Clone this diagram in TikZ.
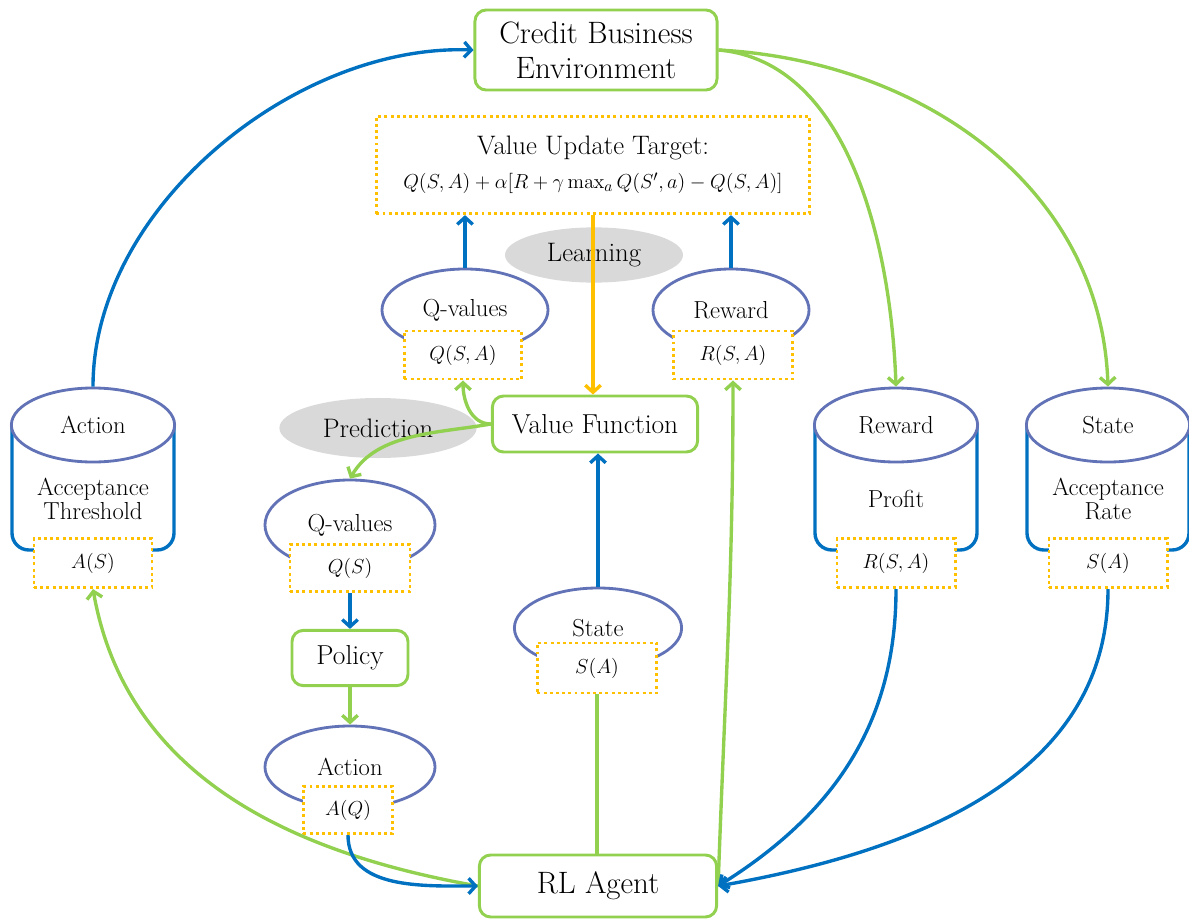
\documentclass[tikz,border=0pt]{standalone}
\usepackage{amsmath}
\usetikzlibrary{shapes.geometric,arrows.meta,positioning,calc}
\definecolor{xGreen}{RGB}{146,208,80}
\definecolor{xBlue}{RGB}{0,112,192}
\definecolor{xOrange}{RGB}{255,192,0}
\definecolor{xLilac}{RGB}{98,114,182}
\definecolor{xGray}{RGB}{217,217,217}
\newcommand{\xBigFont}{\fontsize{22}{25}\selectfont}
\newcommand{\xMidFont}{\fontsize{19.5}{22}\selectfont}
\newcommand{\xLabFont}{\fontsize{17.5}{17}\selectfont}
\newcommand{\xMathFont}{\fontsize{14.5}{18}\selectfont}
\newcommand{\xCloudFont}{\fontsize{19}{20}\selectfont}
\tikzset{
  greenbox/.style={draw=xGreen, line width=2.1pt, rounded corners=8pt, fill=white, align=center, inner sep=0pt},
  dotbox/.style={draw=xOrange, line width=2.1pt, dash pattern=on 2.1pt off 2.3pt, fill=white, inner sep=0pt, font=\xMathFont},
  cup/.style={ellipse, draw=xLilac, line width=2pt, fill=white, inner sep=0pt, font=\xLabFont},
  cloud/.style={ellipse, fill=xGray, inner sep=0pt, font=\xCloudFont},
  barb/.style={-{Straight Barb[length=5pt,width=11pt]}},
  blueline/.style={draw=xBlue, line width=2.4pt, barb},
  greenline/.style={draw=xGreen, line width=2.4pt, barb},
}

\begin{document}
\begin{tikzpicture}[x=0.025cm, y=-0.025cm]
    \useasboundingbox (0,0) rectangle (1189,920);

    % environment and update target
    \node[greenbox, font=\xBigFont, minimum width=6.05cm, minimum height=2cm] (env) at (596,50) {Credit Business\\Environment};
    \node[dotbox, align=center, minimum width=10.83cm, minimum height=2.43cm] (target) at (593,165)
        {{\fontsize{19}{24}\selectfont Value Update Target:}\\[6pt]
         {\fontsize{15.5}{20}\selectfont $Q(S,A)+\alpha[R+\gamma\max_a Q(S',a)-Q(S,A)]$}};
    \node[cloud, minimum width=4.45cm, minimum height=1.38cm] (learn) at (594,255) {Learning};
    \node[cloud, minimum width=4.93cm, minimum height=1.5cm] (pred) at (378,428) {Prediction};

    % learning side
    \node[cup, minimum width=4.15cm, minimum height=2.05cm] (qval) at (465,310) {Q-values};
    \node[dotbox, minimum width=2.93cm, minimum height=1.2cm] (qsa) at (463,355) {$Q(S,A)$};
    \node[cup, minimum width=3.9cm, minimum height=2.05cm] (rew) at (731,310) {Reward};
    \node[dotbox, minimum width=2.98cm, minimum height=1.2cm] (rsa) at (733,355) {$R(S,A)$};
    \node[greenbox, font=\xMidFont, minimum width=5.13cm, minimum height=1.4cm] (vf) at (595,424) {Value Function};

    % prediction side
    \node[cup, minimum width=4.25cm, minimum height=2.25cm] (qv) at (350,525) {Q-values};
    \node[dotbox, minimum width=3cm, minimum height=1.18cm] (qs) at (350,568) {$Q(S)$};
    \node[greenbox, font=\xMidFont, minimum width=2.9cm, minimum height=1.38cm] (policy) at (350,658) {Policy};
    \node[cup, minimum width=4.25cm, minimum height=2.05cm] (act) at (350,767) {Action};
    \node[dotbox, minimum width=2.23cm, minimum height=1.18cm] (aq) at (348,810) {$A(Q)$};
    \node[cup, minimum width=4.18cm, minimum height=2cm] (st) at (598,628) {State};
    \node[dotbox, minimum width=2.98cm, minimum height=1.25cm] (sa) at (597,668) {$S(A)$};
    \node[greenbox, font=\xBigFont, minimum width=5.93cm, minimum height=1.55cm] (agent) at (598,886) {RL Agent};

    % cylinders
    \foreach \cx/\nm/\toptext/\midtext/\boxtext in {93/act/Action/{Acceptance\\Threshold}/{A(S)},
        896/rew/Reward/Profit/{R(S,A)}, 1108/sta/State/{Acceptance\\Rate}/{S(A)}} {
      \draw[xBlue, line width=2.4pt, rounded corners=12pt] (\cx-81,425) -- (\cx-81,550) -- (\cx+81,550) -- (\cx+81,425);
      \node[cup, minimum width=4.08cm, minimum height=1.85cm] (cyl\nm) at (\cx,425) {\toptext};
      \node[align=center, font=\xLabFont] (txt\nm) at (\cx,499) {\midtext};
      \node[dotbox, minimum width=2.95cm, minimum height=1.23cm] (box\nm) at (\cx,563) {$\boxtext$};
    }

    % connectors
    \draw[blueline] (cylact.north) to[out=90, in=178, looseness=0.9] (env.west);
    \draw[greenline] (env.east) to[out=-5, in=92, looseness=0.9] (cylrew.north);
    \draw[greenline] (env.east) to[out=-3, in=92] (cylsta.north);
    \draw[draw=xOrange, line width=2.4pt, barb] (target.south) -- (target.south |- vf.north);
    \draw[blueline] (qval.north) -- (qval.north |- target.south);
    \draw[blueline] (rew.north) -- (rew.north |- target.south);
    \draw[greenline] (vf.west) to[out=180, in=-90] (qsa.south);
    \draw[greenline] (vf.west) to[out=190, in=60, looseness=0.9] (qv.north);
    \draw[blueline] (qs.south) -- (policy.north);
    \draw[greenline] (policy.south) -- (act.north);
    \draw[blueline] (st.north) -- (st.north |- vf.south);
    \draw[xGreen, line width=2.4pt] (sa.south) -- (sa.south |- agent.north);
    \draw[greenline] (agent.east) to[out=88, in=-90] (rsa.south);
    \draw[greenline] (agent.west) to[out=170, in=-80] (boxact.south);
    \draw[blueline] (aq.south) to[out=-90, in=180] (agent.west);
    \draw[blueline] (boxrew.south) to[out=-90, in=32] (agent.east);
    \draw[blueline] (boxsta.south) to[out=-90, in=10] (agent.east);
\end{tikzpicture}
\end{document}
